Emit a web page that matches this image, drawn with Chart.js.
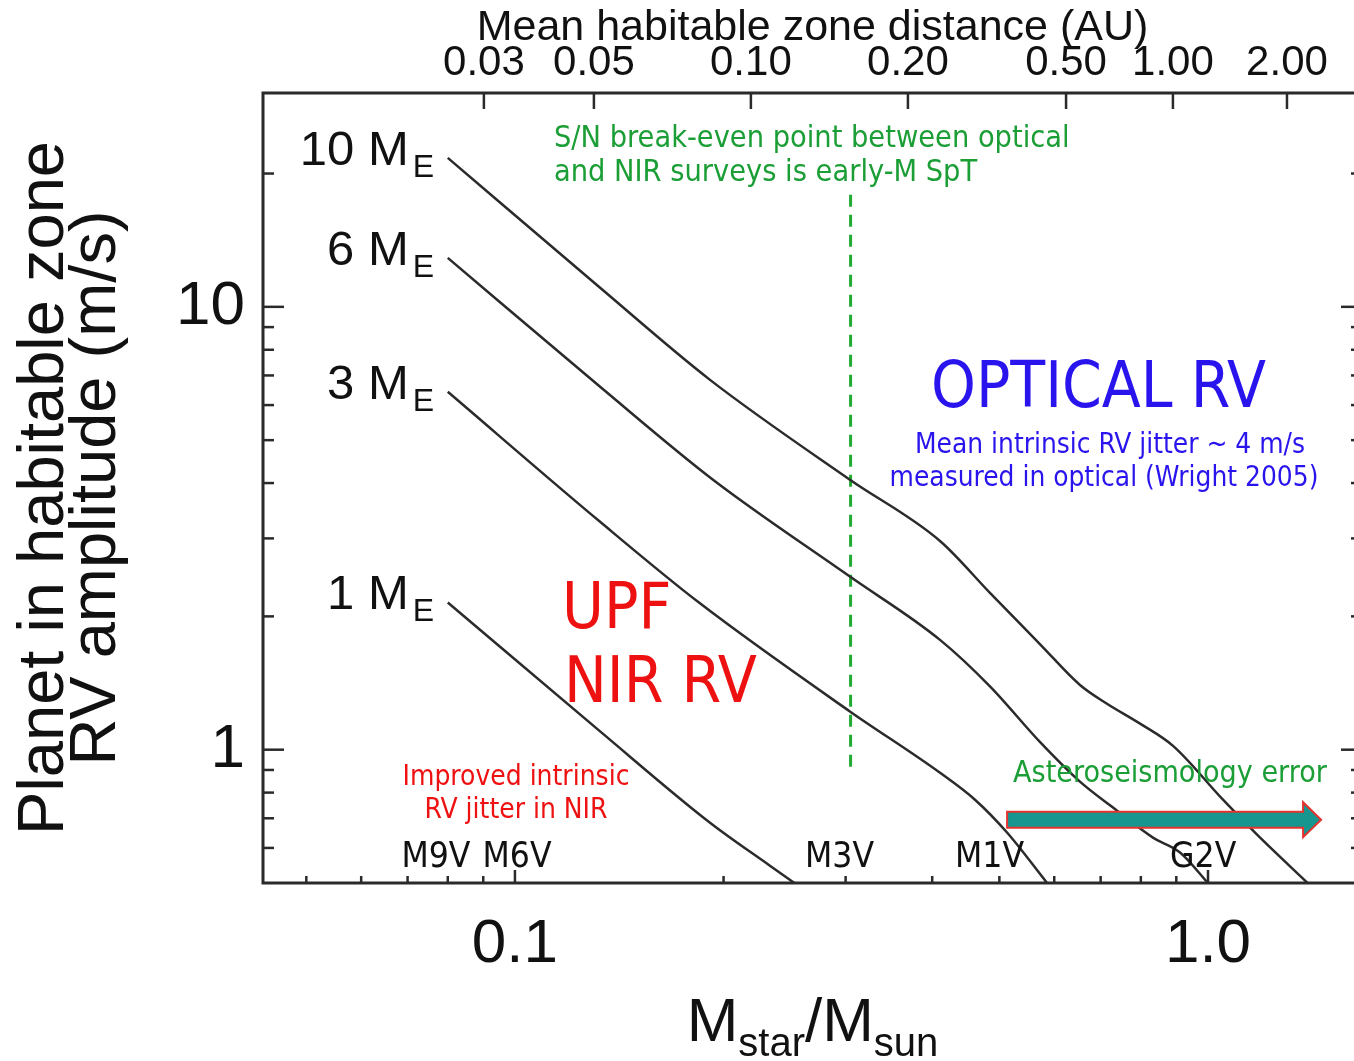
<!DOCTYPE html>
<html>
<head>
<meta charset="utf-8">
<script src="https://cdn.jsdelivr.net/npm/chart.js@4.4.1/dist/chart.umd.min.js"></script>
<style>
  html, body { margin: 0; padding: 0; background: #fff; overflow: hidden; }
  canvas { display: block; }
</style>
</head>
<body>
<canvas id="rvChart" width="1366" height="1061" style="width:1366px;height:1061px"></canvas>
<script>
// stellar mass (M_sun) vs RV amplitude (m/s)
const planetMasses = ['10', '6', '3', '1'];
const mass10 = [0.080, 0.1327, 0.1912, 0.3043, 0.4105, 0.4846, 0.5725, 0.6535, 0.7149, 0.798, 0.8903, 1.051, 1.177, 1.40];
const rv10   = [21.7, 11.04, 6.84, 4.07, 2.96, 2.26, 1.73, 1.40, 1.27, 1.145, 1.02, 0.771, 0.643, 0.496];
const mass6  = [0.080, 0.1327, 0.1931, 0.3043, 0.4105, 0.4846, 0.5725, 0.6535, 0.7293, 0.8329, 0.9112, 1.003];
const rv6    = [12.9, 6.60, 4.07, 2.46, 1.77, 1.39, 1.04, 0.847, 0.740, 0.633, 0.586, 0.497];
const mass3  = [0.080, 0.1327, 0.1849, 0.3043, 0.4105, 0.4611, 0.5129, 0.5876];
const rv3    = [6.43, 3.27, 2.14, 1.22, 0.887, 0.771, 0.650, 0.497];
const mass1  = [0.080, 0.1327, 0.1912, 0.2333, 0.2544];
const rv1    = [2.15, 1.10, 0.684, 0.547, 0.497];

// axes
const massRange = [0.0433, 1.668];
const rvRange = [0.5, 30.4];
const massTicks = [0.1, 1.0];
const massTickLabels = ['0.1', '1.0'];
const massMinor = [0.05, 0.06, 0.07, 0.08, 0.09, 0.2, 0.3, 0.4, 0.5, 0.6, 0.7, 0.8, 0.9];
const rvTicks = [1, 10];
const rvTickLabels = ['1', '10'];
const rvMinor = [0.6, 0.7, 0.8, 0.9, 2, 3, 4, 5, 6, 7, 8, 9, 20];
// top axis: mean habitable zone distance (AU) and the stellar mass it sits at
const hzTickLabels = ['0.03', '0.05', '0.10', '0.20', '0.50', '1.00', '2.00'];
const hzTickMass = [0.0902, 0.130, 0.219, 0.369, 0.624, 0.890, 1.30];

// annotations
const breakEvenMass = 0.305;
const breakEvenRv = [17.9, 0.90];
const astroMass = [0.513, 1.456];
const astroRv = 0.695;
const spectralTypes = ['M9V', 'M6V', 'M3V', 'M1V', 'G2V'];
const spectralMass = [0.0769, 0.1007, 0.294, 0.484, 0.984];

const HELV = "'Liberation Sans', Arial, sans-serif";
const TAHOMA = "'DejaVu Sans Condensed', 'DejaVu Sans', sans-serif";

function toPoints(xs, ys) {
  return xs.map((x, i) => ({ x: x, y: ys[i] }));
}

function fitSize(ctx, text, width, family) {
  ctx.font = '100px ' + family;
  return 100 * width / ctx.measureText(text).width;
}

function put(ctx, text, x, y, size, family, color, align) {
  ctx.font = size + 'px ' + family;
  ctx.fillStyle = color;
  ctx.textAlign = align || 'left';
  ctx.textBaseline = 'alphabetic';
  ctx.fillText(text, x, y);
}

const curveStyle = {
  borderColor: '#2b2b2b',
  borderWidth: 2.5,
  pointRadius: 0,
  cubicInterpolationMode: 'monotone',
  clip: 0
};

const framePlugin = {
  id: 'frame',
  afterDatasetsDraw(chart) {
    const ctx = chart.ctx;
    const a = chart.chartArea;
    const x = chart.scales.x, y = chart.scales.y;
    ctx.save();

    // curve labels next to the first point of each curve
    chart.data.datasets.forEach((ds, i) => {
      if (!ds.planet) return;
      const p = chart.getDatasetMeta(i).data[0];
      put(ctx, ds.planet + ' M', p.x - 39, p.y + 7, 49, HELV, '#111', 'right');
      put(ctx, 'E', p.x - 35, p.y + 19, 32, HELV, '#111', 'left');
    });

    // asteroseismology arrow
    const ax0 = x.getPixelForValue(astroMass[0]);
    const ax1 = x.getPixelForValue(astroMass[1]);
    const ay = y.getPixelForValue(astroRv);
    const headBase = ax1 - 18;
    ctx.beginPath();
    ctx.moveTo(ax0, ay - 8);
    ctx.lineTo(headBase, ay - 8);
    ctx.lineTo(headBase, ay - 17.5);
    ctx.lineTo(ax1, ay);
    ctx.lineTo(headBase, ay + 17.5);
    ctx.lineTo(headBase, ay + 8);
    ctx.lineTo(ax0, ay + 8);
    ctx.closePath();
    ctx.fillStyle = '#16968f';
    ctx.fill();
    ctx.lineWidth = 2;
    ctx.strokeStyle = '#e5332e';
    ctx.stroke();

    // text annotations
    const green = '#1a9e35', blue = '#2a14ee', red = '#ee1111';
    let s = fitSize(ctx, 'S/N break-even point between optical', 516, TAHOMA);
    put(ctx, 'S/N break-even point between optical', 554, 147, s, TAHOMA, green);
    put(ctx, 'and NIR surveys is early-M SpT', 554, 181, s, TAHOMA, green);

    s = fitSize(ctx, 'OPTICAL RV', 335, TAHOMA);
    put(ctx, 'OPTICAL RV', 931, 407, s, TAHOMA, blue);
    s = fitSize(ctx, 'measured in optical (Wright 2005)', 429, TAHOMA);
    put(ctx, 'Mean intrinsic RV jitter ~ 4 m/s', 1110, 453, s, TAHOMA, blue, 'center');
    put(ctx, 'measured in optical (Wright 2005)', 1104, 486, s, TAHOMA, blue, 'center');

    s = fitSize(ctx, 'NIR RV', 193, TAHOMA);
    put(ctx, 'UPF', 562, 628, s, TAHOMA, red);
    put(ctx, 'NIR RV', 564, 702, s, TAHOMA, red);
    s = fitSize(ctx, 'Improved intrinsic', 227, TAHOMA);
    put(ctx, 'Improved intrinsic', 516, 785, s, TAHOMA, red, 'center');
    put(ctx, 'RV jitter in NIR', 516, 818, s, TAHOMA, red, 'center');

    s = fitSize(ctx, 'Asteroseismology error', 314, TAHOMA);
    put(ctx, 'Asteroseismology error', 1013, 782, s, TAHOMA, green);

    s = fitSize(ctx, 'M3V', 69, TAHOMA);
    spectralTypes.forEach((t, i) => {
      put(ctx, t, x.getPixelForValue(spectralMass[i]), 867, s, TAHOMA, '#111', 'center');
    });

    // x axis title with subscripts
    const parts = [['M', 62, 0], ['star', 40, 15], ['/M', 62, 0], ['sun', 40, 15]];
    let total = 0;
    parts.forEach(p => { ctx.font = p[1] + 'px ' + HELV; total += ctx.measureText(p[0]).width; });
    let tx = (a.left + a.right) / 2 - total / 2;
    parts.forEach(p => {
      put(ctx, p[0], tx, 1041 + p[2], p[1], HELV, '#111');
      ctx.font = p[1] + 'px ' + HELV;
      tx += ctx.measureText(p[0]).width;
    });

    // frame and inward ticks
    ctx.strokeStyle = '#2a2a2a';
    ctx.lineWidth = 3;
    ctx.strokeRect(a.left, a.top, a.right - a.left, a.bottom - a.top);
    ctx.lineWidth = 2.5;
    const tick = (x0, y0, x1, y1) => { ctx.beginPath(); ctx.moveTo(x0, y0); ctx.lineTo(x1, y1); ctx.stroke(); };
    rvTicks.concat(rvMinor).forEach(v => {
      const len = rvTicks.includes(v) ? 21 : 11;
      const py = y.getPixelForValue(v);
      tick(a.left, py, a.left + len, py);
      tick(a.right, py, a.right - len, py);
    });
    massTicks.concat(massMinor).forEach(v => {
      const len = massTicks.includes(v) ? 13 : 7;
      const px = x.getPixelForValue(v);
      tick(px, a.bottom, px, a.bottom - len);
    });
    hzTickMass.forEach(v => {
      const px = chart.scales.x2.getPixelForValue(v);
      tick(px, a.top, px, a.top + 16);
    });
    ctx.restore();
  }
};

const datasets = [
  Object.assign({ planet: planetMasses[0], data: toPoints(mass10, rv10) }, curveStyle),
  Object.assign({ planet: planetMasses[1], data: toPoints(mass6, rv6) }, curveStyle),
  Object.assign({ planet: planetMasses[2], data: toPoints(mass3, rv3) }, curveStyle),
  Object.assign({ planet: planetMasses[3], data: toPoints(mass1, rv1) }, curveStyle),
  {
    data: toPoints([breakEvenMass, breakEvenMass], breakEvenRv),
    borderColor: '#22aa33',
    borderWidth: 3,
    borderDash: [12, 8],
    pointRadius: 0,
    clip: 0
  }
];

new Chart(document.getElementById('rvChart'), {
  type: 'line',
  data: { datasets: datasets },
  options: {
    responsive: false,
    animation: false,
    layout: { padding: { left: 0, right: 4, top: 0, bottom: 0 } },
    plugins: { legend: { display: false }, tooltip: { enabled: false } },
    scales: {
      x: {
        type: 'logarithmic',
        position: 'bottom',
        min: massRange[0],
        max: massRange[1],
        afterBuildTicks: s => { s.ticks = massTicks.map(v => ({ value: v })); },
        afterFit: s => { s.height = 178; },
        ticks: {
          callback: (v, i) => massTickLabels[i],
          autoSkip: false,
          maxRotation: 0,
          padding: 25,
          color: '#111',
          font: { family: HELV, size: 62 }
        },
        grid: { display: false, drawTicks: false },
        border: { display: false }
      },
      x2: {
        type: 'logarithmic',
        position: 'top',
        min: massRange[0],
        max: massRange[1],
        afterBuildTicks: s => { s.ticks = hzTickMass.map(v => ({ value: v })); },
        afterFit: s => { s.height = 93; },
        ticks: {
          callback: (v, i) => hzTickLabels[i],
          autoSkip: false,
          maxRotation: 0,
          padding: 4,
          color: '#111',
          font: { family: HELV, size: 42 }
        },
        title: {
          display: true,
          text: 'Mean habitable zone distance (AU)',
          color: '#111',
          font: { family: HELV, size: 43 },
          padding: { top: 2, bottom: 0 }
        },
        grid: { display: false, drawTicks: false },
        border: { display: false }
      },
      y: {
        type: 'logarithmic',
        position: 'left',
        min: rvRange[0],
        max: rvRange[1],
        afterBuildTicks: s => { s.ticks = rvTicks.map(v => ({ value: v })); },
        afterFit: s => { s.width = 263; },
        ticks: {
          callback: (v, i) => rvTickLabels[i],
          autoSkip: false,
          padding: 18,
          color: '#111',
          font: { family: HELV, size: 62 }
        },
        title: {
          display: true,
          text: ['Planet in habitable zone', 'RV amplitude (m/s)'],
          color: '#111',
          font: { family: HELV, size: 65, lineHeight: 0.8 },
          padding: { top: 19, bottom: 0 }
        },
        grid: { display: false, drawTicks: false },
        border: { display: false }
      }
    }
  },
  plugins: [framePlugin]
});
</script>
</body>
</html>
